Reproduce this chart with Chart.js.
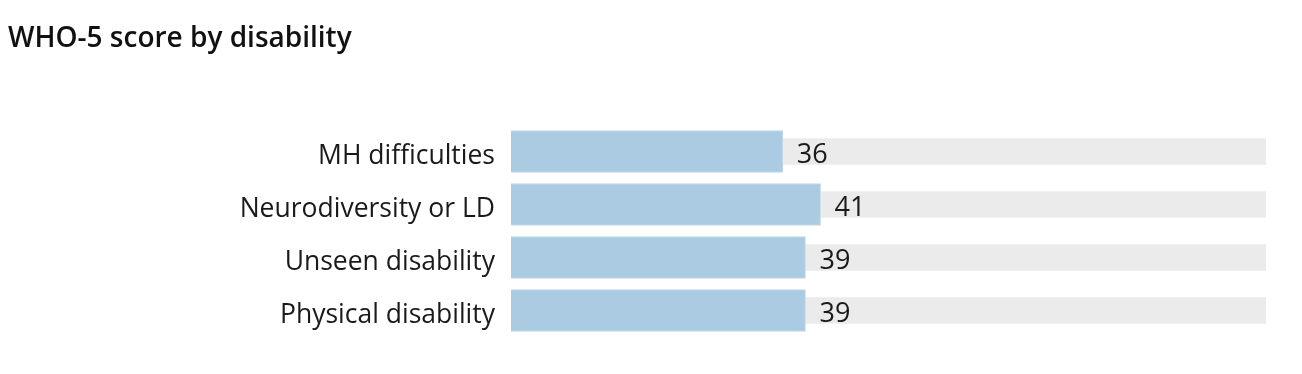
<!DOCTYPE html>
<html>
<head>
<meta charset="utf-8">
<script src="https://cdn.jsdelivr.net/npm/chart.js@4"></script>
<style>
    html, body { margin: 0; padding: 0; background: #fff; }
    #wrap { position: relative; width: 1302px; height: 374px; }
    #title { position: absolute; left: 8px; top: 22px; line-height: 1; font-family: 'Open Sans', sans-serif; font-weight: 600; font-size: 28px; color: #111; }
</style>
</head>
<body>
<div id="wrap">
    <div id="title">WHO-5 score by disability</div>
    <canvas id="who5-chart" width="1302" height="374"></canvas>
</div>
<script>
const categories = ['MH difficulties', 'Neurodiversity or LD', 'Unseen disability', 'Physical disability'];
const scores = [36, 41, 39, 39];
const trackMax = [100, 100, 100, 100];

// category names left of the bars and score values right of them
const barLabels = {
    id: 'barLabels',
    afterDatasetsDraw(chart) {
        const ctx = chart.ctx;
        const meta = chart.getDatasetMeta(0);
        const yScale = chart.scales.y;
        const left = chart.chartArea.left;
        ctx.save();
        ctx.fillStyle = '#1a1a1a';
        ctx.textBaseline = 'alphabetic';

        ctx.font = '26.5px "Open Sans", sans-serif';
        ctx.textAlign = 'right';
        categories.forEach((name, i) => {
            ctx.fillText(name, left - 16, yScale.getPixelForValue(i) + 12.8);
        });

        ctx.font = '27px "Open Sans", sans-serif';
        ctx.textAlign = 'left';
        meta.data.forEach((bar, i) => {
            ctx.fillText(scores[i], bar.x + 14, bar.y + 11.2);
        });
        ctx.restore();
    }
};

const ctx = document.getElementById('who5-chart').getContext('2d');
new Chart(ctx, {
    type: 'bar',
    data: {
        labels: categories,
        datasets: [{
            label: 'Score',
            data: scores,
            backgroundColor: '#abcbe2',
            borderColor: '#c2d9ea',
            borderWidth: 1,
            barThickness: 42,
            order: 0
        }, {
            label: 'Track',
            data: trackMax,
            backgroundColor: '#ebebeb',
            borderWidth: 0,
            barThickness: 26,
            order: 1
        }]
    },
    options: {
        indexAxis: 'y',
        responsive: false,
        animation: false,
        layout: { padding: { top: 125, bottom: 37, right: 36, left: 0 } },
        plugins: {
            legend: { display: false },
            tooltip: { enabled: false }
        },
        scales: {
            x: {
                display: false,
                min: 0,
                max: 100
            },
            y: {
                grid: { display: false },
                border: { display: false },
                afterFit: (scale) => { scale.width = 511; },
                ticks: { display: false }
            }
        },
        datasets: { bar: { grouped: false } }
    },
    plugins: [barLabels]
});
</script>
</body>
</html>
